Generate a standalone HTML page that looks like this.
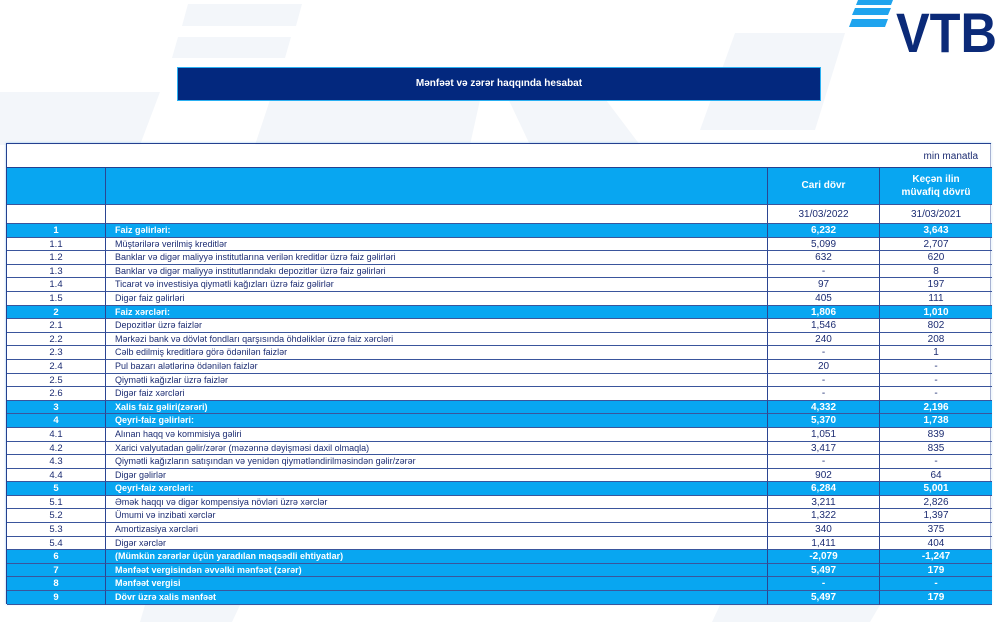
<!DOCTYPE html>
<html><head><meta charset="utf-8">
<style>
html,body{margin:0;padding:0;}
body{width:1000px;height:622px;position:relative;overflow:hidden;background:#fff;font-family:"Liberation Sans",Arial,sans-serif;}
.bg{position:absolute;left:0;top:0;}
.title{position:absolute;left:177px;top:67px;width:642px;height:32px;background:#03287e;border:1.5px solid #2ab0f2;color:#fff;font-weight:bold;font-size:10px;text-align:center;line-height:32px;}
.grid{position:absolute;left:6px;top:143px;width:985px;height:461px;display:grid;grid-template-columns:99px 662px 112px 112px;grid-template-rows:24px 37px 19px repeat(28,13.6px);box-sizing:border-box;border:1px solid #24408f;box-shadow:0 0 2px rgba(40,140,230,0.5);}
.grid>div{box-sizing:border-box;border-right:1px solid #2b4592;border-bottom:1px solid #3a559c;color:#1c2c72;font-size:10px;text-align:center;white-space:nowrap;overflow:hidden;background:rgba(255,255,255,0.6);}
.grid>div.c4{border-right:none;}
.grid>div.l{text-align:left;padding-left:9px;font-size:9px;}
.grid>div.n{font-size:9.5px;}
.grid>div.b{background:#08a6f1;color:#fff;font-weight:bold;}
.row{line-height:13px;}
.mm{grid-column:1 / span 4;text-align:right!important;padding-right:14px;line-height:26px;border-right:none!important;border-bottom:1px solid #24408f!important;}
.hd{background:#08a6f1!important;color:#fff!important;font-weight:bold;}
</style></head><body>
<svg class="bg" width="1000" height="622" viewBox="0 0 1000 622">
<g fill="#f3f6fa">
<polygon points="188,4 302,4 296,26 182,26"/>
<polygon points="178,37 291,37 285,58 172,58"/>
<polygon points="0,92 160,92 140,145 0,145"/>
<polygon points="270,100 480,100 470,145 255,145"/>
<polygon points="505,92 600,92 640,145 530,145"/>
<polygon points="735,33 845,33 815,130 700,130"/>
<polygon points="145,605 240,605 232,622 140,622"/>
<polygon points="720,605 880,605 870,622 712,622"/>
</g>
<g fill="#1fa4ee">
<polygon points="858,0 893,0 891,5 856,5"/>
<polygon points="855,8 891,8 888,15 852,15"/>
<polygon points="852,19 888,19 885,27 849,27"/>
</g>
<text x="896" y="52" font-family="Liberation Sans, Arial, sans-serif" font-weight="bold" font-size="56" fill="#0b2a78" textLength="101" lengthAdjust="spacingAndGlyphs">VTB</text>
</svg>
<div class="title">Mənfəət və zərər haqqında hesabat</div>
<div class="grid">
<div class="mm">min manatla</div>
<div class="hd"></div><div class="hd"></div><div class="hd" style="line-height:36px;">Cari dövr</div><div class="hd c4" style="line-height:13px;padding-top:5px;">Keçən ilin<br>müvafiq dövrü</div>
<div></div><div></div><div style="line-height:19px;">31/03/2022</div><div class="c4" style="line-height:19px;">31/03/2021</div>

<div class="row n b">1</div><div class="row l b">Faiz gəlirləri:</div><div class="row b">6,232</div><div class="row b c4">3,643</div>
<div class="row n">1.1</div><div class="row l">Müştərilərə verilmiş kreditlər</div><div class="row">5,099</div><div class="row c4">2,707</div>
<div class="row n">1.2</div><div class="row l">Banklar və digər maliyyə institutlarına verilən kreditlər üzrə faiz gəlirləri</div><div class="row">632</div><div class="row c4">620</div>
<div class="row n">1.3</div><div class="row l">Banklar və digər maliyyə institutlarındakı depozitlər üzrə faiz gəlirləri</div><div class="row">-</div><div class="row c4">8</div>
<div class="row n">1.4</div><div class="row l">Ticarət və investisiya qiymətli kağızları üzrə faiz gəlirlər</div><div class="row">97</div><div class="row c4">197</div>
<div class="row n">1.5</div><div class="row l">Digər faiz gəlirləri</div><div class="row">405</div><div class="row c4">111</div>
<div class="row n b">2</div><div class="row l b">Faiz xərcləri:</div><div class="row b">1,806</div><div class="row b c4">1,010</div>
<div class="row n">2.1</div><div class="row l">Depozitlər üzrə faizlər</div><div class="row">1,546</div><div class="row c4">802</div>
<div class="row n">2.2</div><div class="row l">Mərkəzi bank və dövlət fondları qarşısında öhdəliklər üzrə faiz xərcləri</div><div class="row">240</div><div class="row c4">208</div>
<div class="row n">2.3</div><div class="row l">Cəlb edilmiş kreditlərə görə ödənilən faizlər</div><div class="row">-</div><div class="row c4">1</div>
<div class="row n">2.4</div><div class="row l">Pul bazarı alətlərinə ödənilən faizlər</div><div class="row">20</div><div class="row c4">-</div>
<div class="row n">2.5</div><div class="row l">Qiymətli kağızlar üzrə faizlər</div><div class="row">-</div><div class="row c4">-</div>
<div class="row n">2.6</div><div class="row l">Digər faiz xərcləri</div><div class="row">-</div><div class="row c4">-</div>
<div class="row n b">3</div><div class="row l b">Xalis faiz gəliri(zərəri)</div><div class="row b">4,332</div><div class="row b c4">2,196</div>
<div class="row n b">4</div><div class="row l b">Qeyri-faiz gəlirləri:</div><div class="row b">5,370</div><div class="row b c4">1,738</div>
<div class="row n">4.1</div><div class="row l">Alınan haqq və kommisiya gəliri</div><div class="row">1,051</div><div class="row c4">839</div>
<div class="row n">4.2</div><div class="row l">Xarici valyutadan gəlir/zərər (məzənnə dəyişməsi daxil olmaqla)</div><div class="row">3,417</div><div class="row c4">835</div>
<div class="row n">4.3</div><div class="row l">Qiymətli kağızların satışından və yenidən qiymətləndirilməsindən gəlir/zərər</div><div class="row">-</div><div class="row c4">-</div>
<div class="row n">4.4</div><div class="row l">Digər gəlirlər</div><div class="row">902</div><div class="row c4">64</div>
<div class="row n b">5</div><div class="row l b">Qeyri-faiz xərcləri:</div><div class="row b">6,284</div><div class="row b c4">5,001</div>
<div class="row n">5.1</div><div class="row l">Əmək haqqı və digər kompensiya növləri üzrə xərclər</div><div class="row">3,211</div><div class="row c4">2,826</div>
<div class="row n">5.2</div><div class="row l">Ümumi və inzibati xərclər</div><div class="row">1,322</div><div class="row c4">1,397</div>
<div class="row n">5.3</div><div class="row l">Amortizasiya xərcləri</div><div class="row">340</div><div class="row c4">375</div>
<div class="row n">5.4</div><div class="row l">Digər xərclər</div><div class="row">1,411</div><div class="row c4">404</div>
<div class="row n b">6</div><div class="row l b">(Mümkün zərərlər üçün yaradılan məqsədli ehtiyatlar)</div><div class="row b">-2,079</div><div class="row b c4">-1,247</div>
<div class="row n b">7</div><div class="row l b">Mənfəət vergisindən əvvəlki mənfəət (zərər)</div><div class="row b">5,497</div><div class="row b c4">179</div>
<div class="row n b">8</div><div class="row l b">Mənfəət vergisi</div><div class="row b">-</div><div class="row b c4">-</div>
<div class="row n b">9</div><div class="row l b">Dövr üzrə xalis mənfəət</div><div class="row b">5,497</div><div class="row b c4">179</div>
</div>
</body></html>
